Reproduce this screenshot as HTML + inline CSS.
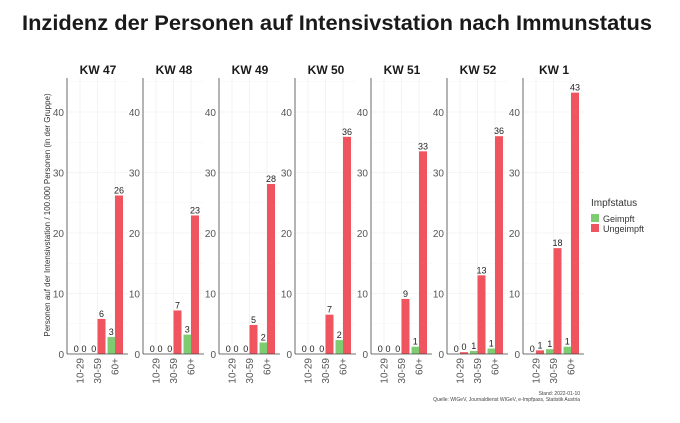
<!DOCTYPE html>
<html><head><meta charset="utf-8"><style>
html,body{margin:0;padding:0;background:#fff;}
svg{display:block;font-family:"Liberation Sans",sans-serif;}
</style></head><body>
<svg id="s" width="680" height="423" viewBox="0 0 680 423" xmlns="http://www.w3.org/2000/svg">
<text x="22" y="30" font-size="21" font-weight="bold" fill="#1a1a1a" textLength="630" lengthAdjust="spacingAndGlyphs">Inzidenz der Personen auf Intensivstation nach Immunstatus</text>
<text transform="translate(50,215) rotate(-90)" text-anchor="middle" font-size="8" fill="#333">Personen auf der Intensivstation / 100.000 Personen (in der Gruppe)</text>
<text x="591" y="206" font-size="10" fill="#333">Impfstatus</text>
<rect x="591" y="214" width="8" height="8" fill="#7dcc72"/>
<text x="603" y="222" font-size="9" fill="#333">Geimpft</text>
<rect x="591" y="224" width="8" height="8" fill="#f0555f"/>
<text x="603" y="232" font-size="9" fill="#333">Ungeimpft</text>
<text x="580" y="395" text-anchor="end" font-size="5" fill="#444">Stand: 2022-01-10</text>
<text x="580" y="401" text-anchor="end" font-size="5" fill="#444">Quelle: WIGeV, Journaldienst WIGeV, e-Impfpass, Statistik Austria</text>
</svg>
<script>
var s=document.getElementById('s'),NS='http://www.w3.org/2000/svg';
function el(t,a,txt){var e=document.createElementNS(NS,t);for(var k in a)e.setAttribute(k,a[k]);if(txt!=null)e.textContent=txt;s.appendChild(e);return e;}
var names=['KW 47','KW 48','KW 49','KW 50','KW 51','KW 52','KW 1'];
var data=[
[[0,0,'0','0'],[0,5.8,'0','6'],[2.8,26.2,'3','26']],
[[0,0,'0','0'],[0,7.2,'0','7'],[3.2,22.9,'3','23']],
[[0,0,'0','0'],[0,4.8,'0','5'],[1.9,28.1,'2','28']],
[[0,0,'0','0'],[0,6.5,'0','7'],[2.3,35.9,'2','36']],
[[0,0,'0','0'],[0,9.1,'0','9'],[1.2,33.5,'1','33']],
[[0,0.3,'0','0'],[0.5,13,'1','13'],[0.9,36,'1','36']],
[[0,0.6,'0','1'],[0.8,17.5,'1','18'],[1.2,43.2,'1','43']]];
var y0=354,u=6.05,cats=['10-29','30-59','60+'];
for(var p=0;p<7;p++){
 var ax=67+p*76;
 el('text',{x:ax+31,y:74,'text-anchor':'middle','font-size':12,'font-weight':'bold',fill:'#1a1a1a'},names[p]);
 for(var g=0;g<=45;g+=5){var yy=y0-g*u;el('line',{x1:ax,x2:ax+61,y1:yy,y2:yy,stroke:g%10?'#f4f4f4':'#ebebeb','stroke-width':0.6});}
 for(var c=0;c<3;c++){var cx=ax+13+c*17.5;el('line',{x1:cx,x2:cx,y1:78,y2:y0,stroke:'#ebebeb','stroke-width':0.6});}
 for(var g=0;g<=40;g+=10){el('text',{x:ax-3,y:y0-g*u+4,'text-anchor':'end','font-size':10,fill:'#555'},String(g));}
 for(var c=0;c<3;c++){
  var cx=ax+13+c*17.5,d=data[p][c];
  var hg=d[0]*u,hr=d[1]*u;
  el('rect',{x:cx-7.5,y:y0-hg,width:7.5,height:hg,fill:'#7dcc72'});
  el('rect',{x:cx,y:y0-hr,width:8,height:hr,fill:'#f0555f'});
  el('text',{x:cx-3.8,y:y0-hg-2,'text-anchor':'middle','font-size':9,fill:'#222'},d[2]);
  el('text',{x:cx+4,y:y0-hr-2,'text-anchor':'middle','font-size':9,fill:'#222'},d[3]);
  el('text',{transform:'translate('+(cx+3.5)+','+(y0+4)+') rotate(-90)','text-anchor':'end','font-size':10,fill:'#555'},cats[c]);
 }
 el('line',{x1:ax,x2:ax,y1:78,y2:y0,stroke:'#444','stroke-width':0.8});
 el('line',{x1:ax,x2:ax+61,y1:y0,y2:y0,stroke:'#444','stroke-width':0.8});
}
</script>
</body></html>
